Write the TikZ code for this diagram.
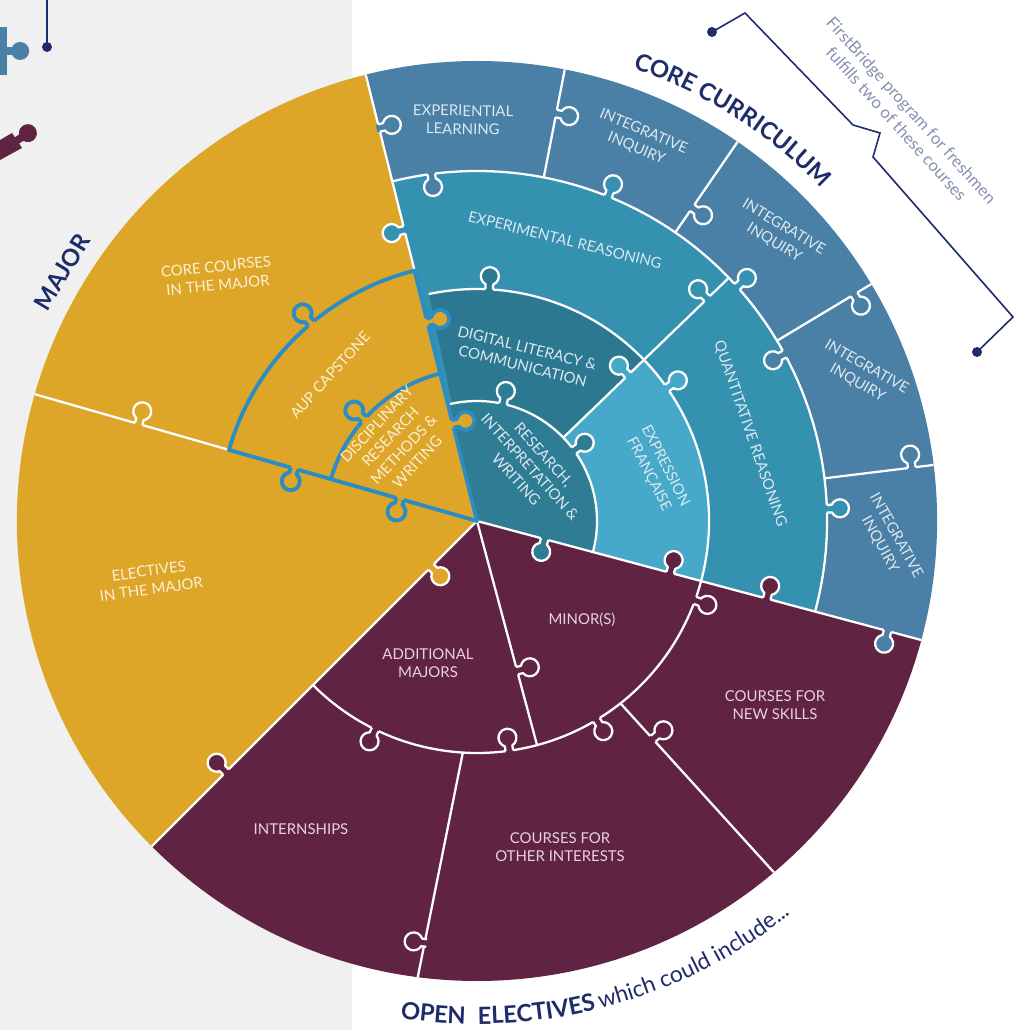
\documentclass[tikz,border=0pt]{standalone}
\usepackage{fontspec}
\setmainfont{Lato}
\usetikzlibrary{decorations.text}

\definecolor{majorc}{HTML}{DDA628}
\definecolor{outerc}{HTML}{4A80A5}
\definecolor{midc}{HTML}{3591B0}
\definecolor{digic}{HTML}{2C7891}
\definecolor{frenchc}{HTML}{46A9C9}
\definecolor{resc}{HTML}{2E7D95}
\definecolor{electc}{HTML}{612342}
\definecolor{capc}{HTML}{2B8DC3}
\definecolor{navyc}{HTML}{1E2C6B}
\definecolor{greyc}{HTML}{F0F0F0}
\definecolor{ytext}{HTML}{FAF0D7}
\definecolor{btext}{HTML}{DDE8F0}
\definecolor{mtext}{HTML}{E6D3DD}
\definecolor{notec}{HTML}{8891B2}

\tikzset{
	seam/.style={white, line width=1.3pt, line join=round},
	capseam/.style={capc, line width=2.2pt, line join=round},
	lbl/.style={font=\fontsize{8.5}{10.5}\selectfont, align=center, inner sep=0pt},
	onyellow/.style={lbl, text=ytext},
	onblue/.style={lbl, text=btext},
	onmaroon/.style={lbl, text=mtext},
	title/.style={font=\fontsize{13.5}{16}\selectfont\bfseries, text=navyc},
	note/.style={font=\fontsize{9.5}{11.5}\selectfont, text=notec, align=center, inner sep=0pt}
}

\newcommand{\coretitle}{\fontsize{13.5}{16}\selectfont\bfseries\color{navyc}}
\newcommand{\opentitle}{\fontsize{13.5}{16}\selectfont\bfseries\color{navyc}}
\newcommand{\opensub}{\fontsize{13}{15}\selectfont\color{navyc}}

% one puzzle tab: base point, direction, fill, outline
\newcommand{\knob}[4]{%
	\begin{scope}[shift={(#1)}, rotate=#2]
		\fill[#3] (-2.5,-3.8) -- (5,-3.8) arc[start angle=-155, end angle=155, radius=9] -- (-2.5,3.8) -- cycle;
		\draw[#4] (0,-3.8) -- (5,-3.8) arc[start angle=-155, end angle=155, radius=9] -- (0,3.8);
	\end{scope}}

\begin{document}
\begin{tikzpicture}[x=0.02cm, y=0.02cm]
	\fill[white] (-477,-509) rectangle (550,521);
	\fill[greyc] (-477,-509) rectangle (-125,521);
	\useasboundingbox (-477,-509) rectangle (550,521);

	% the three sectors
	\fill[majorc] (0,0) -- (104:460) arc[start angle=104, end angle=225, radius=460] -- cycle;
	\fill[electc] (0,0) -- (225:460) arc[start angle=225, end angle=345, radius=460] -- cycle;
	\fill[outerc] (0,0) -- (-15:460) arc[start angle=-15, end angle=104, radius=460] -- cycle;
	\fill[midc] (0,0) -- (-15:350) arc[start angle=-15, end angle=104, radius=350] -- cycle;
	\fill[digic] (0,0) -- (44:232) arc[start angle=44, end angle=102, radius=232] -- cycle;
	\fill[frenchc] (0,0) -- (-15:232) arc[start angle=-15, end angle=44, radius=232] -- cycle;
	\fill[resc] (0,0) -- (-15:120) arc[start angle=-15, end angle=104, radius=120] -- cycle;

	% seams
	\foreach \a in {104,225,345}
		\draw[seam] (0,0) -- (\a:460);
	\foreach \a in {79,55.5,31,7}
		\draw[seam] (\a:350) -- (\a:460);
	\draw[seam] (-15:350) arc[start angle=-15, end angle=104, radius=350];
	\draw[seam] (-15:232) arc[start angle=-15, end angle=102, radius=232];
	\draw[seam] (-15:120) arc[start angle=-15, end angle=104, radius=120];
	\draw[seam] (44:120) -- (44:350);
	\draw[seam] (164:258) -- (164:460);
	\draw[seam] (225:232) arc[start angle=225, end angle=345, radius=232];
	\draw[seam] (0,0) -- (285:232);
	\draw[seam] (266.5:232) -- (262.6:460);
	\draw[seam] (308.2:232) -- (310.2:460);

	% capstone outline
	\draw[capseam] (0,0) -- (164:258) arc[start angle=164, end angle=104, radius=258] -- cycle;
	\draw[capseam] (164:152) arc[start angle=164, end angle=104, radius=152];

	% tabs
	\knob{104:405}{14}{outerc}{seam}
	\knob{104:300}{194}{midc}{seam}
	\knob{97.5:350}{277.5}{outerc}{seam}
	\knob{87:232}{87}{digic}{seam}
	\knob{77.5:120}{77.5}{resc}{seam}
	\knob{79:415}{-11}{outerc}{seam}
	\knob{68:350}{68}{midc}{seam}
	\knob{55.5:380}{-34.5}{outerc}{seam}
	\knob{44:320}{134}{midc}{seam}
	\knob{42:350}{42}{midc}{seam}
	\knob{31:440}{-59}{outerc}{seam}
	\knob{28.5:350}{208.5}{outerc}{seam}
	\knob{35:232}{35}{frenchc}{seam}
	\knob{44:210}{134}{frenchc}{seam}
	\knob{36:120}{36}{resc}{seam}
	\knob{7:438}{97}{outerc}{seam}
	\knob{2:350}{2}{midc}{seam}
	\knob{345:70}{255}{resc}{seam}
	\knob{345:200}{75}{electc}{seam}
	\knob{345:300}{75}{electc}{seam}
	\knob{345:425}{255}{outerc}{seam}
	\knob{164:352}{74}{majorc}{seam}
	\knob{225:65}{315}{majorc}{seam}
	\knob{225:355}{135}{electc}{seam}
	\knob{340:232}{340}{electc}{seam}
	\knob{244:232}{244}{electc}{seam}
	\knob{278:232}{98}{electc}{seam}
	\knob{301:232}{301}{electc}{seam}
	\knob{285:155}{15}{electc}{seam}
	\knob{309:280}{39}{electc}{seam}
	\knob{263.2:425}{173}{electc}{seam}
	\knob{130:258}{130}{majorc}{capseam}
	\knob{164:190}{254}{majorc}{capseam}
	\knob{138:152}{138}{majorc}{capseam}
	\knob{164:80}{254}{majorc}{capseam}
	\knob{104:205}{14}{majorc}{capseam}
	\knob{104:100}{14}{majorc}{capseam}

	% labels
	\node[onblue, rotate=-1] (el) at (-14,401) {EXPERIENTIAL\\LEARNING};
	\node[onblue, rotate=-23] (iione) at (163,381) {INTEGRATIVE\\INQUIRY};
	\node[onblue, rotate=-31] (iitwo) at (302,286) {INTEGRATIVE\\INQUIRY};
	\node[onblue, rotate=-30] (iithree) at (385,146) {INTEGRATIVE\\INQUIRY};
	\node[onblue, rotate=-61] (iifour) at (411,-19) {INTEGRATIVE\\INQUIRY};
	\node[onblue, rotate=-14] (er) at (88,281) {EXPERIMENTAL REASONING};
	\node[onblue, rotate=-71] (qr) at (273,87) {QUANTITATIVE REASONING};
	\node[onblue, rotate=-14] (dl) at (48,164) {DIGITAL LITERACY \&\\COMMUNICATION};
	\node[onblue, rotate=-48] (riw) at (53,54) {RESEARCH,\\INTERPRETATION \&\\WRITING};
	\node[onblue, rotate=-63] (ef) at (180,51) {EXPRESSION\\FRANÇAISE};
	\node[onyellow, rotate=48] (cap) at (-147,146) {AUP CAPSTONE};
	\node[onyellow, rotate=47] (drm) at (-80,78) {DISCIPLINARY\\RESEARCH\\METHODS \&\\WRITING};
	\node[onyellow, rotate=6] (core) at (-260,245) {CORE COURSES\\IN THE MAJOR};
	\node[onyellow, rotate=8] (elec) at (-327,-59) {ELECTIVES\\IN THE MAJOR};
	\node[onmaroon] (addm) at (-49,-142) {ADDITIONAL\\MAJORS};
	\node[onmaroon] (minor) at (105,-99) {MINOR(S)};
	\node[onmaroon] (intern) at (-176,-308) {INTERNSHIPS};
	\node[onmaroon] (other) at (83,-326) {COURSES FOR\\OTHER INTERESTS};
	\node[onmaroon] (skills) at (298,-184) {COURSES FOR\\NEW SKILLS};

	% titles
	\node[title, rotate=59] (major) at (-415,249) {MAJOR};
	\path[decorate, decoration={text along path, text={|\coretitle|CORE CURRICULUM}, text align=left}]
		(71:479) arc[start angle=71, end angle=30, radius=479];
	\path[decorate, decoration={text along path, text={|\opentitle|OPEN}, text align=left}]
		(261.2:503) arc[start angle=261.2, end angle=272, radius=503];
	\path[decorate, decoration={text along path, text={|\opentitle|ELECTIVES}, text align=left}]
		(270.1:503) arc[start angle=270.1, end angle=288, radius=503];
	\path[decorate, decoration={text along path, text={|\opensub|which could include...}, text align=left}]
		(284.2:503) arc[start angle=284.2, end angle=322, radius=503];

	% FirstBridge bracket
	\coordinate (fba) at (235,489);
	\coordinate (fbb) at (268,508);
	\coordinate (fbc) at (376,396);
	\coordinate (fbd) at (403,388);
	\coordinate (fbe) at (396,364);
	\coordinate (fbf) at (536,204);
	\coordinate (fbg) at (500,169);
	\draw[navyc, line width=0.9pt] (fba) -- (fbb) -- (fbc) -- (fbd) -- (fbe) -- (fbf) -- (fbg);
	\fill[navyc] (fba) circle (5);
	\fill[navyc] (fbg) circle (5);
	\node[note, rotate=-48] (fb) at (427,404) {FirstBridge program for freshmen\\fulfills two of these courses};

	% loose pieces at the left edge
	\coordinate (pin) at (-430,474);
	\draw[navyc, line width=0.9pt] (-430,521) -- (pin);
	\fill[navyc] (pin) circle (5);
	\fill[outerc] (-477,494) rectangle (-470,446);
	\knob{-470,470}{0}{outerc}{draw=none}
	\fill[electc] (-477,381) -- (-465,388) -- (-455,373) -- (-477,361) -- cycle;
	\knob{-460,380.5}{34}{electc}{draw=none}
\end{tikzpicture}
\end{document}
